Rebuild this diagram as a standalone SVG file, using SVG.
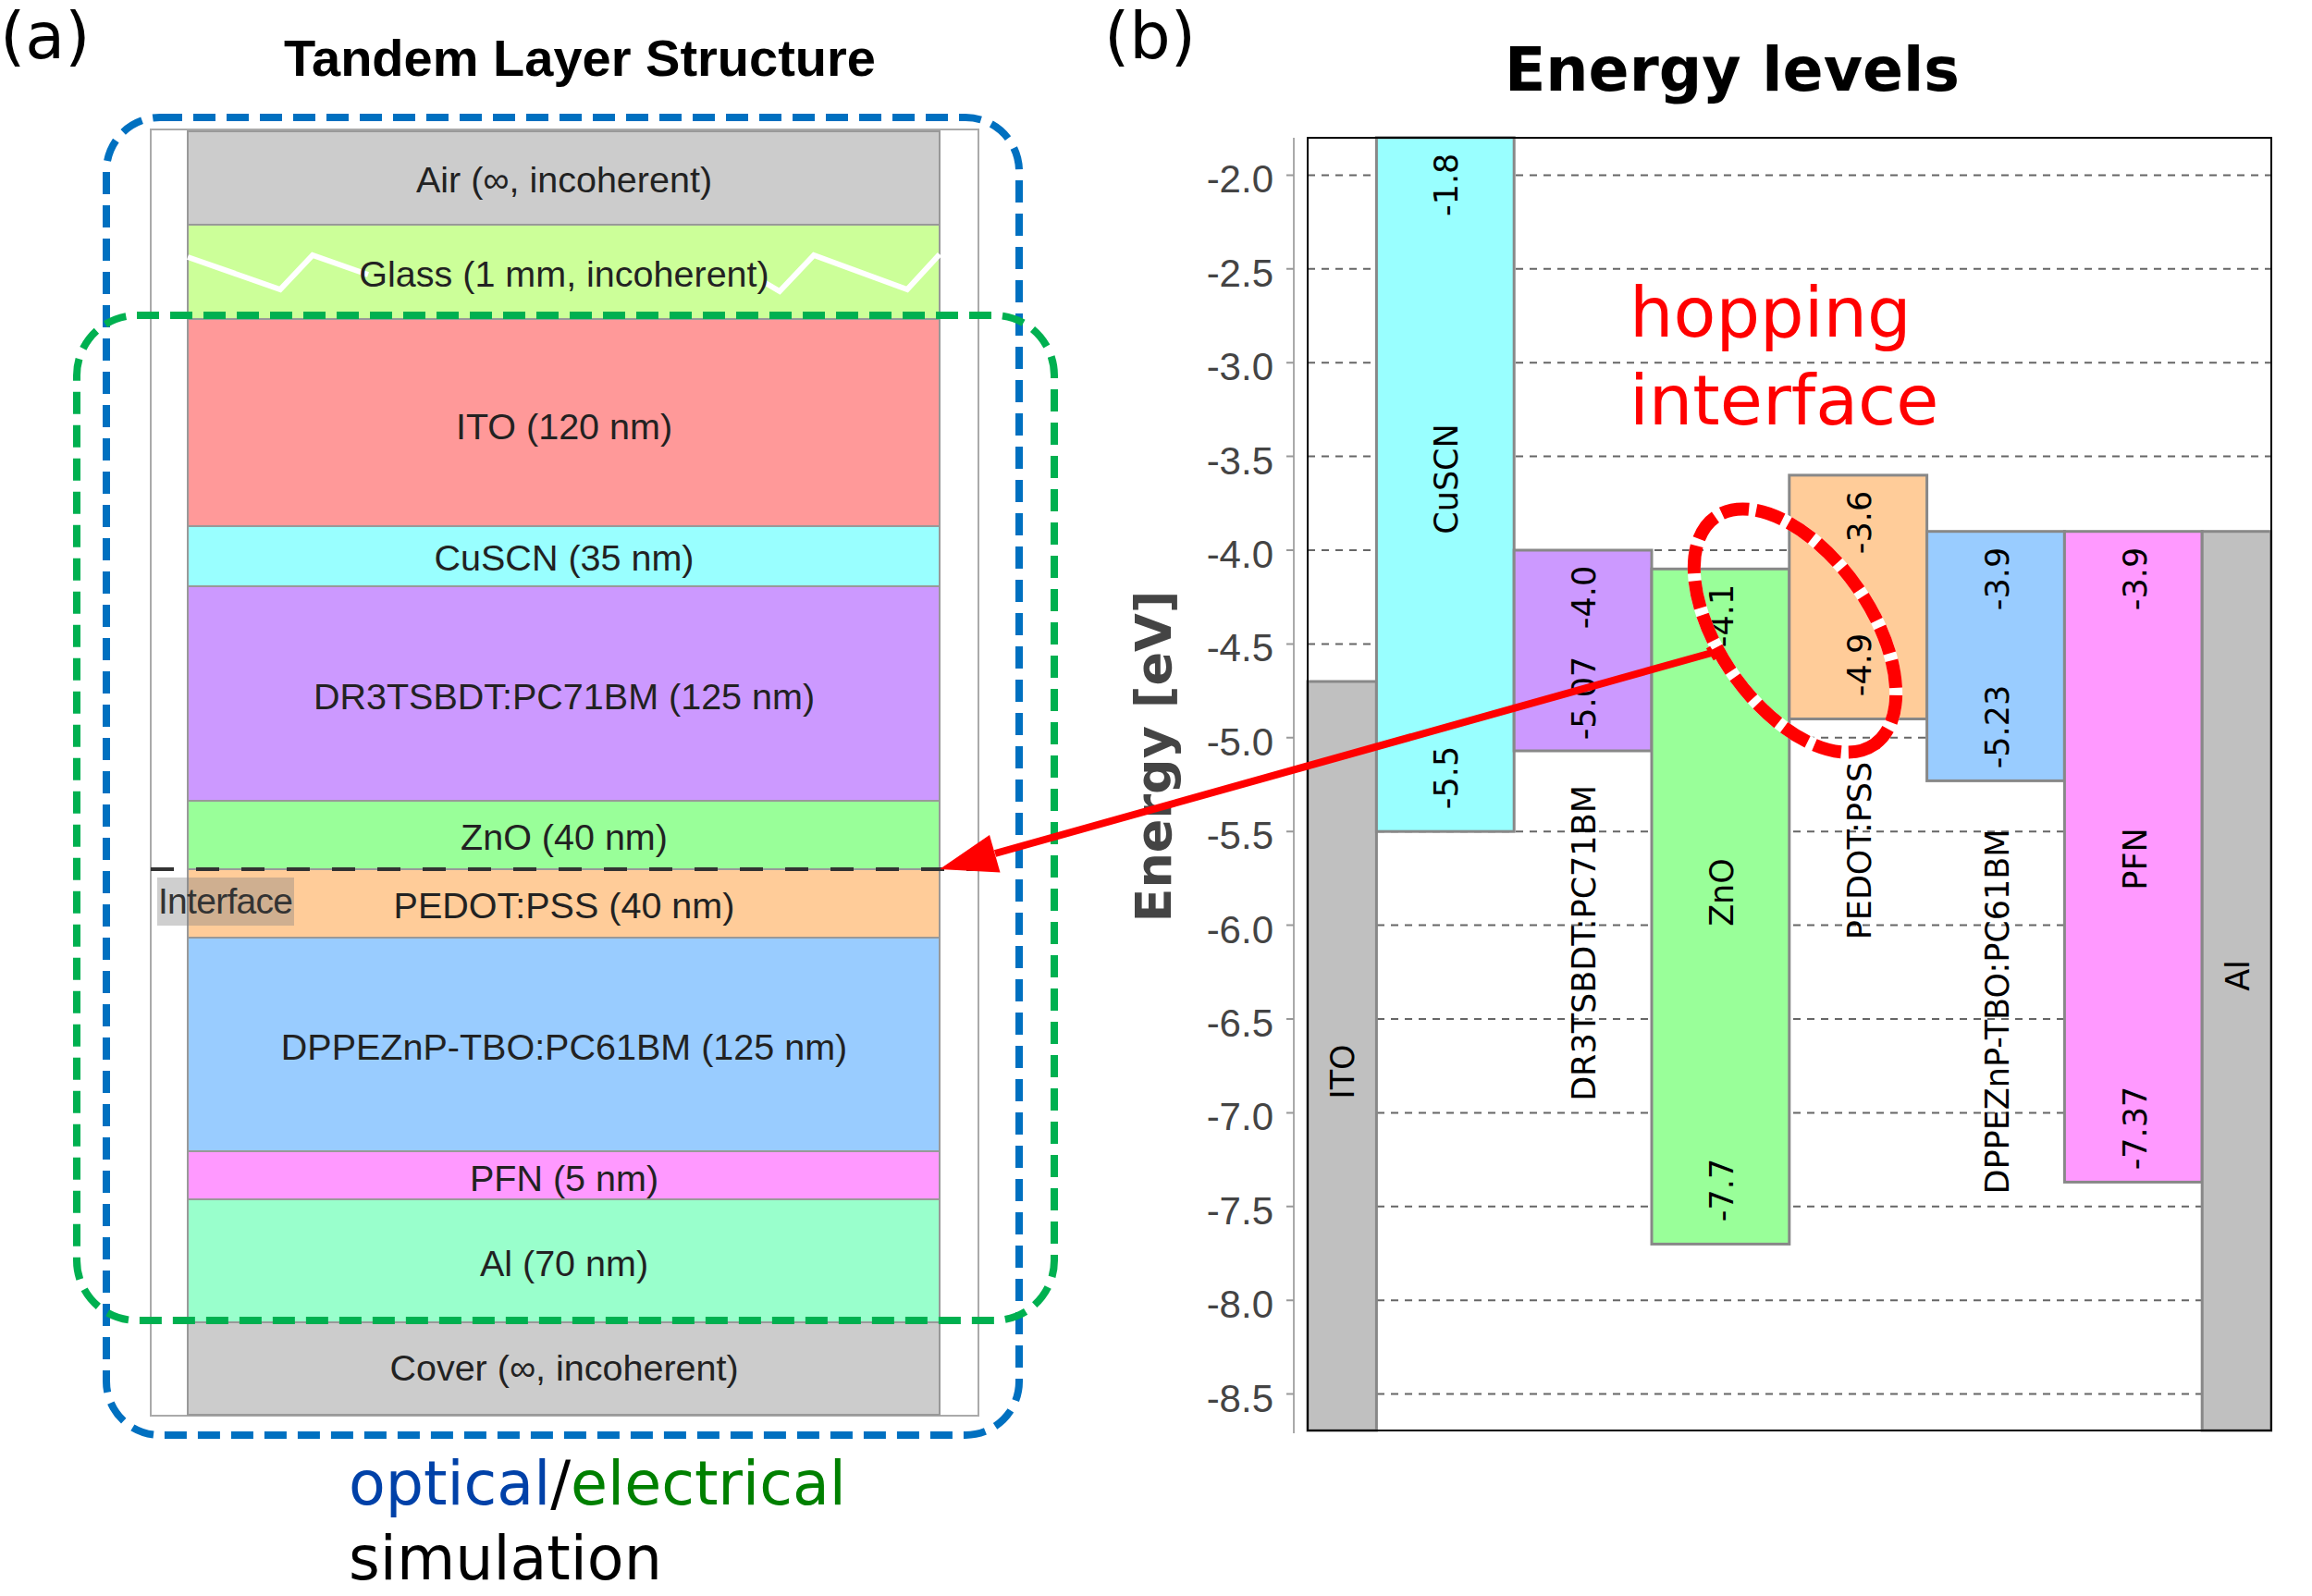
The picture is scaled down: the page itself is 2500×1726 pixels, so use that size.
<svg xmlns="http://www.w3.org/2000/svg" width="2500" height="1726" viewBox="0 0 2500 1726">
<style>
.lay{stroke:#999;stroke-width:2}
.lt{font-family:"Liberation Sans",Arial,sans-serif;font-size:39.5px;fill:#222;text-anchor:middle}
.dv{font-family:"DejaVu Sans",sans-serif}
.bar{stroke:#888;stroke-width:3}
.bl{font-family:"DejaVu Sans",sans-serif;font-size:35px;fill:#000;text-anchor:middle}
.grid{stroke:#666;stroke-width:2;stroke-dasharray:8 7}
.tk{stroke:#999;stroke-width:2}
.tick{font-family:"Liberation Sans",Arial,sans-serif;font-size:42px;fill:#444;text-anchor:end}
.zig{fill:none;stroke:#fff;stroke-width:6}
</style>
<rect width="2500" height="1726" fill="#fff"/>

<!-- Panel a -->
<text id="label-a" class="dv" x="0" y="63" font-size="70">(a)</text>
<text id="title-a" x="627" y="82" font-family="'Liberation Sans',Arial,sans-serif" font-weight="bold" font-size="56" text-anchor="middle">Tandem Layer Structure</text>

<g id="frame">
<rect x="163" y="140" width="895" height="1391" fill="#fff" stroke="#aaa" stroke-width="2"/>
</g>
<g id="layer-air"><rect class="lay" x="203" y="142" width="813" height="101" fill="#cccccc"/><text class="lt" x="610" y="208">Air (∞, incoherent)</text></g>
<g id="layer-glass"><rect class="lay" x="203" y="243" width="813" height="102" fill="#ccff99"/>
<polyline class="zig" points="203,278 303,313 338,276 398,297"/>
<polyline class="zig" points="826,305 843,315 880,276 981,313 1016,275"/>
<text class="lt" x="610" y="310">Glass (1 mm, incoherent)</text></g>
<g id="layer-ito"><rect class="lay" x="203" y="345" width="813" height="224" fill="#ff9999"/><text class="lt" x="610" y="475">ITO (120 nm)</text></g>
<g id="layer-cuscn"><rect class="lay" x="203" y="569" width="813" height="65" fill="#99ffff"/><text class="lt" x="610" y="617">CuSCN (35 nm)</text></g>
<g id="layer-dr3"><rect class="lay" x="203" y="634" width="813" height="232" fill="#cc99ff"/><text class="lt" x="610" y="767">DR3TSBDT:PC71BM (125 nm)</text></g>
<g id="layer-zno"><rect class="lay" x="203" y="866" width="813" height="74" fill="#99ff99"/><text class="lt" x="610" y="919">ZnO (40 nm)</text></g>
<g id="layer-pedot"><rect class="lay" x="203" y="940" width="813" height="74" fill="#ffcc99"/><text class="lt" x="610" y="993">PEDOT:PSS (40 nm)</text></g>
<g id="layer-dppe"><rect class="lay" x="203" y="1014" width="813" height="231" fill="#99ccff"/><text class="lt" x="610" y="1146">DPPEZnP-TBO:PC61BM (125 nm)</text></g>
<g id="layer-pfn"><rect class="lay" x="203" y="1245" width="813" height="52" fill="#ff99ff"/><text class="lt" x="610" y="1288">PFN (5 nm)</text></g>
<g id="layer-al"><rect class="lay" x="203" y="1297" width="813" height="133" fill="#99ffcc"/><text class="lt" x="610" y="1380">Al (70 nm)</text></g>
<g id="layer-cover"><rect class="lay" x="203" y="1430" width="813" height="100" fill="#cccccc"/><text class="lt" x="610" y="1493">Cover (∞, incoherent)</text></g>

<g id="interface">
<line x1="163" y1="940" x2="1056" y2="940" stroke="#333" stroke-width="4" stroke-dasharray="25 24"/>
<rect x="170" y="949" width="148" height="52" fill="#808080" fill-opacity="0.38"/>
<text x="171" y="988" font-family="'Liberation Sans',Arial,sans-serif" font-size="39" fill="#333" textLength="146">Interface</text>
</g>

<g id="optical-box"><rect x="115" y="127" width="987" height="1425" rx="58" fill="none" stroke="#0070c0" stroke-width="8" stroke-dasharray="24 12"/></g>
<g id="electrical-box"><rect x="83" y="341" width="1057" height="1087" rx="65" fill="none" stroke="#00b050" stroke-width="8" stroke-dasharray="24 12"/></g>

<g id="caption">
<text class="dv" x="377" y="1627" font-size="65"><tspan fill="#0041a8">optical</tspan><tspan fill="#000">/</tspan><tspan fill="#008000">electrical</tspan></text>
<text class="dv" x="377" y="1708" font-size="65" fill="#000">simulation</text>
</g>

<!-- Panel b -->
<text id="label-b" class="dv" x="1194" y="63" font-size="70">(b)</text>
<text id="title-b" class="dv" x="1873" y="98" font-size="65" font-weight="bold" text-anchor="middle">Energy levels</text>

<g id="axis">
<line x1="1399" y1="149" x2="1399" y2="1550" stroke="#aaa" stroke-width="2"/>
<line class="grid" x1="1414" y1="189.4" x2="2456" y2="189.4"/>
<line class="grid" x1="1414" y1="290.8" x2="2456" y2="290.8"/>
<line class="grid" x1="1414" y1="392.2" x2="2456" y2="392.2"/>
<line class="grid" x1="1414" y1="493.6" x2="2456" y2="493.6"/>
<line class="grid" x1="1414" y1="595" x2="2456" y2="595"/>
<line class="grid" x1="1414" y1="696.4" x2="2456" y2="696.4"/>
<line class="grid" x1="1414" y1="797.8" x2="2456" y2="797.8"/>
<line class="grid" x1="1414" y1="899.2" x2="2456" y2="899.2"/>
<line class="grid" x1="1414" y1="1000.6" x2="2456" y2="1000.6"/>
<line class="grid" x1="1414" y1="1102" x2="2456" y2="1102"/>
<line class="grid" x1="1414" y1="1203.4" x2="2456" y2="1203.4"/>
<line class="grid" x1="1414" y1="1304.8" x2="2456" y2="1304.8"/>
<line class="grid" x1="1414" y1="1406.2" x2="2456" y2="1406.2"/>
<line class="grid" x1="1414" y1="1507.6" x2="2456" y2="1507.6"/>
<path class="tk" d="M1391,189.4H1399M1391,290.8H1399M1391,392.2H1399M1391,493.6H1399M1391,595H1399M1391,696.4H1399M1391,797.8H1399M1391,899.2H1399M1391,1000.6H1399M1391,1102H1399M1391,1203.4H1399M1391,1304.8H1399M1391,1406.2H1399M1391,1507.6H1399"/>
<text class="tick" x="1377" y="208.4">-2.0</text>
<text class="tick" x="1377" y="309.8">-2.5</text>
<text class="tick" x="1377" y="411.2">-3.0</text>
<text class="tick" x="1377" y="512.6">-3.5</text>
<text class="tick" x="1377" y="614">-4.0</text>
<text class="tick" x="1377" y="715.4">-4.5</text>
<text class="tick" x="1377" y="816.8">-5.0</text>
<text class="tick" x="1377" y="918.2">-5.5</text>
<text class="tick" x="1377" y="1019.6">-6.0</text>
<text class="tick" x="1377" y="1121">-6.5</text>
<text class="tick" x="1377" y="1222.4">-7.0</text>
<text class="tick" x="1377" y="1323.8">-7.5</text>
<text class="tick" x="1377" y="1425.2">-8.0</text>
<text class="tick" x="1377" y="1526.6">-8.5</text>
<text class="dv" transform="translate(1266 818) rotate(-90)" font-size="54" font-weight="bold" fill="#444" text-anchor="middle">Energy [eV]</text>
</g>

<g id="bar-ito"><rect class="bar" x="1414" y="737" width="74.4" height="810" fill="#c0c0c0"/>
<text class="bl" transform="translate(1464 1159) rotate(-90)">ITO</text></g>
<g id="bar-cuscn"><rect class="bar" x="1488.4" y="148.8" width="148.8" height="750.4" fill="#99ffff"/>
<text class="bl" transform="translate(1576 199.8) rotate(-90)">-1.8</text>
<text class="bl" transform="translate(1576 518) rotate(-90)">CuSCN</text>
<text class="bl" transform="translate(1576 841) rotate(-90)">-5.5</text></g>
<g id="bar-dr3"><rect class="bar" x="1637.2" y="595" width="148.8" height="217" fill="#cc99ff"/>
<text class="bl" transform="translate(1725 646) rotate(-90)">-4.0</text>
<text class="bl" transform="translate(1725 755) rotate(-90)">-5.07</text>
<text class="bl" transform="translate(1725 1020) rotate(-90)">DR3TSBDT:PC71BM</text></g>
<g id="bar-zno"><rect class="bar" x="1786" y="615.3" width="148.8" height="730.1" fill="#99ff99"/>
<text class="bl" transform="translate(1874 666) rotate(-90)">-4.1</text>
<text class="bl" transform="translate(1874 965) rotate(-90)">ZnO</text>
<text class="bl" transform="translate(1874 1287) rotate(-90)">-7.7</text></g>
<g id="bar-pedot"><rect class="bar" x="1934.8" y="513.9" width="148.8" height="263.6" fill="#ffcc99"/>
<text class="bl" transform="translate(2023 565) rotate(-90)">-3.6</text>
<text class="bl" transform="translate(2023 719) rotate(-90)">-4.9</text>
<text class="bl" transform="translate(2023 920) rotate(-90)">PEDOT:PSS</text></g>
<g id="bar-dppe"><rect class="bar" x="2083.6" y="574.7" width="148.8" height="269.7" fill="#99ccff"/>
<text class="bl" transform="translate(2172 626) rotate(-90)">-3.9</text>
<text class="bl" transform="translate(2172 786) rotate(-90)">-5.23</text>
<text class="bl" transform="translate(2172 1094) rotate(-90)">DPPEZnP-TBO:PC61BM</text></g>
<g id="bar-pfn"><rect class="bar" x="2232.4" y="574.7" width="148.8" height="703.7" fill="#ff99ff"/>
<text class="bl" transform="translate(2321 626) rotate(-90)">-3.9</text>
<text class="bl" transform="translate(2321 929) rotate(-90)">PFN</text>
<text class="bl" transform="translate(2321 1220) rotate(-90)">-7.37</text></g>
<g id="bar-al"><rect class="bar" x="2381.2" y="574.7" width="74.4" height="972.3" fill="#c0c0c0"/>
<text class="bl" transform="translate(2432 1055) rotate(-90)">Al</text></g>

<rect id="plot-frame" x="1414" y="149" width="1042" height="1398" fill="none" stroke="#000" stroke-width="2"/>

<g id="hopping">
<text class="dv" x="1762" y="364" font-size="75" fill="#ff0000">hopping</text>
<text class="dv" x="1762" y="459" font-size="75" fill="#ff0000">interface</text>
<g transform="translate(1941 682) rotate(55)">
<ellipse rx="150" ry="82" fill="none" stroke="#fff" stroke-width="14"/>
<ellipse rx="150" ry="82" fill="none" stroke="#ff0000" stroke-width="14" stroke-dasharray="30 8"/>
</g>
</g>

<g id="connectors">
<path d="M1851,706 L1076,923" fill="none" stroke="#ff0000" stroke-width="8"/>
<path d="M1847,700 L1855,713" fill="none" stroke="#ff0000" stroke-width="5"/>
<polygon points="1016,940 1070,903 1081.5,943.5" fill="#ff0000"/>
</g>
</svg>
